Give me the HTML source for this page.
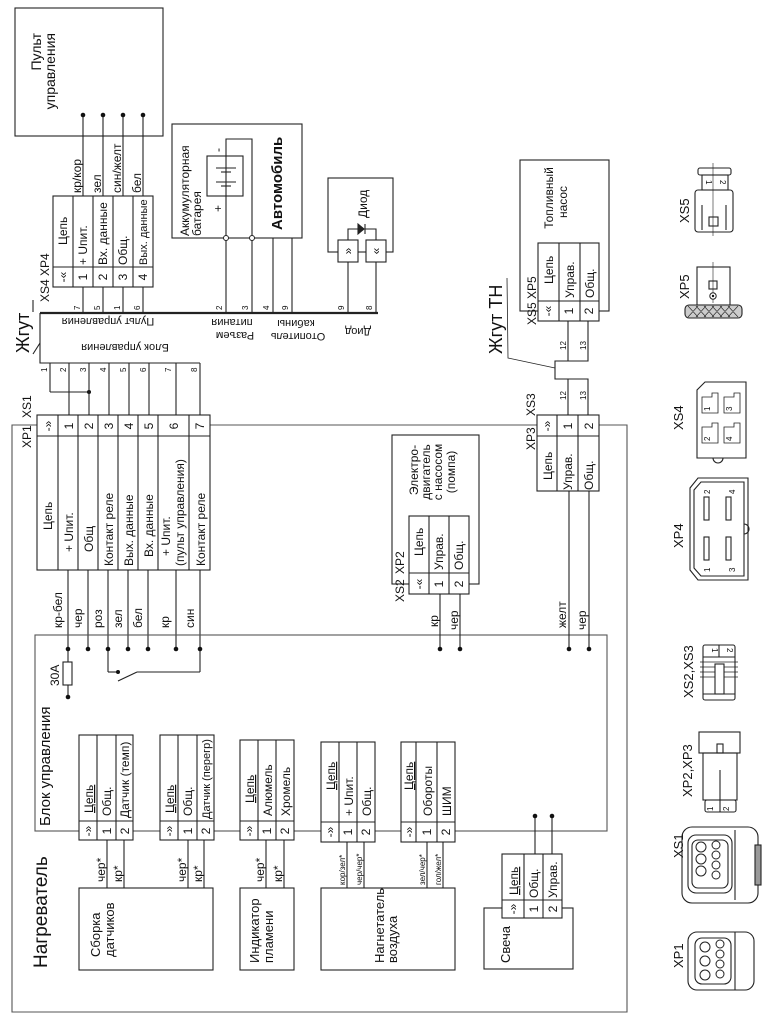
<!DOCTYPE html>
<html><head><meta charset="utf-8"><style>
html,body{margin:0;padding:0;background:#fff}
svg{display:block}
text{font-family:"Liberation Sans","DejaVu Sans",sans-serif;font-size:11px;fill:#111}
.s{font-size:8px}
.m{font-size:12px}
.L{font-size:12px}
line,path,rect,polyline{stroke:#222;stroke-width:1.1;fill:none}
circle{stroke:#222;stroke-width:1;fill:#fff}
.w{fill:#fff}
.d{fill:#111;stroke:none}
</style></head><body>
<svg width="765" height="1021" viewBox="0 0 765 1021" xmlns="http://www.w3.org/2000/svg">
<!-- Пульт -->
<rect x="15" y="8" width="148" height="128"/>
<text style="font-size:14px" text-anchor="end" transform="translate(41,33) rotate(-90)">Пульт</text>
<text style="font-size:14px" text-anchor="end" transform="translate(55,33) rotate(-90)">управления</text>
<line x1="83" y1="115" x2="83" y2="313"/><line x1="103" y1="115" x2="103" y2="313"/>
<line x1="123" y1="115" x2="123" y2="313"/><line x1="143" y1="115" x2="143" y2="313"/>
<circle class="d" cx="83" cy="115" r="2.3"/><circle class="d" cx="103" cy="115" r="2.3"/><circle class="d" cx="123" cy="115" r="2.3"/><circle class="d" cx="143" cy="115" r="2.3"/>
<text class="m" transform="translate(81,193) rotate(-90)">кр/кор</text>
<text class="m" transform="translate(101,193) rotate(-90)">зел</text>
<text class="m" transform="translate(121,193) rotate(-90)">син/желт</text>
<text class="m" transform="translate(141,193) rotate(-90)">бел</text>
<!-- XP4 table -->
<rect class="w" x="53" y="196" width="100" height="91"/>
<line x1="53" y1="267" x2="153" y2="267"/>
<line x1="73" y1="196" x2="73" y2="287"/><line x1="93" y1="196" x2="93" y2="287"/><line x1="113" y1="196" x2="113" y2="287"/><line x1="133" y1="196" x2="133" y2="287"/>
<text class="m" transform="translate(67,245) rotate(-90)">Цепь</text>
<text class="m" transform="translate(87,265) rotate(-90)">+ Uпит.</text>
<text class="m" transform="translate(107,265) rotate(-90)">Вх. данные</text>
<text class="m" transform="translate(127,265) rotate(-90)">Общ.</text>
<text transform="translate(147,265) rotate(-90)">Вых. данные</text>
<text class="m" text-anchor="middle" transform="translate(67,277) rotate(-90)">-«</text>
<text class="m" text-anchor="middle" transform="translate(87,277) rotate(-90)">1</text>
<text class="m" text-anchor="middle" transform="translate(107,277) rotate(-90)">2</text>
<text class="m" text-anchor="middle" transform="translate(127,277) rotate(-90)">3</text>
<text class="m" text-anchor="middle" transform="translate(147,277) rotate(-90)">4</text>
<text class="L" transform="translate(49,302) rotate(-90)">XS4</text>
<text class="L" transform="translate(49,276) rotate(-90)">XP4</text>
<text class="s" transform="translate(80,310) rotate(-90)">7</text><text class="s" transform="translate(100,310) rotate(-90)">5</text>
<text class="s" transform="translate(120,310) rotate(-90)">1</text><text class="s" transform="translate(140,310) rotate(-90)">6</text>
<!-- Battery / Автомобиль -->
<rect x="172" y="124" width="130" height="114"/>
<path d="M226 238 V139 H252 V238"/>
<rect class="w" x="207" y="156" width="36" height="40"/>
<line x1="226" y1="156" x2="226" y2="196"/>
<line x1="216" y1="168" x2="236" y2="168"/><line x1="221" y1="172" x2="231" y2="172"/>
<line x1="216" y1="182" x2="236" y2="182"/><line x1="221" y1="186" x2="231" y2="186"/>
<text class="m" transform="translate(222,152) rotate(-90)">-</text>
<text class="m" transform="translate(222,212) rotate(-90)">+</text>
<text class="m" transform="translate(189,236) rotate(-90)">Аккумуляторная</text>
<text class="m" transform="translate(201,236) rotate(-90)">батарея</text>
<text style="font-size:15px;font-weight:bold" transform="translate(282,230) rotate(-90)">Автомобиль</text>
<line x1="226" y1="238" x2="226" y2="313"/><line x1="252" y1="238" x2="252" y2="313"/>
<line x1="273" y1="238" x2="273" y2="313"/><line x1="292" y1="238" x2="292" y2="313"/>
<circle cx="226" cy="238" r="2.5"/><circle cx="252" cy="238" r="2.5"/>
<text class="s" transform="translate(222,310) rotate(-90)">2</text><text class="s" transform="translate(248,310) rotate(-90)">3</text>
<text class="s" transform="translate(269,310) rotate(-90)">4</text><text class="s" transform="translate(288,310) rotate(-90)">9</text>
<!-- Diode -->
<rect x="328" y="178" width="65" height="74"/>
<path d="M348 240 V229 H376 V240"/>
<path d="M358 224 L358 234 L364 229 Z" style="fill:#222"/><line x1="365" y1="224" x2="365" y2="234"/>
<text class="m" transform="translate(367,218) rotate(-90)">Диод</text>
<rect class="w" x="338" y="240" width="20" height="22"/><rect class="w" x="366" y="240" width="20" height="22"/>
<text class="m" text-anchor="middle" transform="translate(352,251) rotate(-90)">»</text>
<text class="m" text-anchor="middle" transform="translate(380,251) rotate(-90)">«</text>
<line x1="348" y1="262" x2="348" y2="313"/><line x1="376" y1="262" x2="376" y2="313"/>
<text class="s" transform="translate(344,310) rotate(-90)">9</text><text class="s" transform="translate(372,310) rotate(-90)">8</text>
<!-- Harness -->
<line x1="40" y1="313" x2="378" y2="313" style="stroke-width:2.2"/>
<path d="M40 313 V363 H200"/>
<line x1="33" y1="300" x2="33" y2="312"/><line x1="33" y1="354" x2="40" y2="343"/>
<text style="font-size:18px" transform="translate(29,353) rotate(-90)">Жгут</text>
<text text-anchor="middle" transform="translate(108,318) rotate(180)">Пульт управления</text>
<text text-anchor="middle" transform="translate(125,344) rotate(180)">Блок управления</text>
<text text-anchor="middle" transform="translate(232,319) rotate(180)">питания</text>
<text text-anchor="middle" transform="translate(235,332) rotate(180)">Разъем</text>
<text text-anchor="middle" transform="translate(296,320) rotate(180)">кабины</text>
<text text-anchor="middle" transform="translate(298,333) rotate(180)">Отопитель</text>
<text text-anchor="middle" transform="translate(358,328) rotate(180)">Диод</text>
<line x1="50" y1="363" x2="50" y2="392"/><path d="M50 392 H89"/><circle class="d" cx="89" cy="392" r="2"/>
<line x1="69" y1="363" x2="69" y2="415"/><line x1="89" y1="363" x2="89" y2="415"/>
<line x1="109" y1="363" x2="109" y2="415"/><line x1="129" y1="363" x2="129" y2="415"/>
<line x1="149" y1="363" x2="149" y2="415"/><line x1="176" y1="363" x2="176" y2="415"/>
<line x1="200" y1="363" x2="200" y2="415"/>
<text class="s" transform="translate(47,372) rotate(-90)">1</text><text class="s" transform="translate(66,372) rotate(-90)">2</text>
<text class="s" transform="translate(86,372) rotate(-90)">3</text><text class="s" transform="translate(106,372) rotate(-90)">4</text>
<text class="s" transform="translate(126,372) rotate(-90)">5</text><text class="s" transform="translate(146,372) rotate(-90)">6</text>
<text class="s" transform="translate(171,372) rotate(-90)">7</text><text class="s" transform="translate(197,372) rotate(-90)">8</text>
<!-- outer frame -->
<path d="M37 425 H12 V1012 H627 V425 H599" style="stroke:#555"/>
<line x1="210" y1="425" x2="537" y2="425" style="stroke:#555"/>
<text class="L" transform="translate(31,418) rotate(-90)">XS1</text>
<text class="L" transform="translate(31,448) rotate(-90)">XP1</text>
<!-- XP1 table -->
<rect class="w" x="37" y="415" width="173" height="155"/>
<line x1="37" y1="436" x2="210" y2="436"/>
<line x1="58" y1="415" x2="58" y2="570"/><line x1="78" y1="415" x2="78" y2="570"/><line x1="98" y1="415" x2="98" y2="570"/>
<line x1="118" y1="415" x2="118" y2="570"/><line x1="138" y1="415" x2="138" y2="570"/><line x1="158" y1="415" x2="158" y2="570"/><line x1="189" y1="415" x2="189" y2="570"/>
<text class="m" text-anchor="middle" transform="translate(52,426) rotate(-90)">-»</text>
<text class="m" text-anchor="middle" transform="translate(73,426) rotate(-90)">1</text>
<text class="m" text-anchor="middle" transform="translate(93,426) rotate(-90)">2</text>
<text class="m" text-anchor="middle" transform="translate(113,426) rotate(-90)">3</text>
<text class="m" text-anchor="middle" transform="translate(133,426) rotate(-90)">4</text>
<text class="m" text-anchor="middle" transform="translate(153,426) rotate(-90)">5</text>
<text class="m" text-anchor="middle" transform="translate(178,426) rotate(-90)">6</text>
<text class="m" text-anchor="middle" transform="translate(204,426) rotate(-90)">7</text>
<text class="m" transform="translate(52,530) rotate(-90)">Цепь</text>
<text class="m" transform="translate(73,552) rotate(-90)">+ Uпит.</text>
<text class="m" transform="translate(93,552) rotate(-90)">Общ</text>
<text class="m" transform="translate(113,566) rotate(-90)">Контакт реле</text>
<text class="m" transform="translate(133,566) rotate(-90)">Вых. данные</text>
<text class="m" transform="translate(153,557) rotate(-90)">Вх. данные</text>
<text class="m" transform="translate(170,556) rotate(-90)">+ Uпит.</text>
<text class="m" transform="translate(184,566) rotate(-90)">(пульт управления)</text>
<text class="m" transform="translate(205,566) rotate(-90)">Контакт реле</text>
<!-- wires to block -->
<line x1="68" y1="570" x2="68" y2="662"/><line x1="88" y1="570" x2="88" y2="649"/><line x1="108" y1="570" x2="108" y2="672"/>
<line x1="128" y1="570" x2="128" y2="649"/><line x1="148" y1="570" x2="148" y2="649"/><line x1="176" y1="570" x2="176" y2="649"/><line x1="200" y1="570" x2="200" y2="672"/>
<text class="m" transform="translate(62,628) rotate(-90)">кр-бел</text>
<text class="m" transform="translate(82,628) rotate(-90)">чер</text>
<text class="m" transform="translate(102,628) rotate(-90)">роз</text>
<text class="m" transform="translate(122,628) rotate(-90)">зел</text>
<text class="m" transform="translate(142,628) rotate(-90)">бел</text>
<text class="m" transform="translate(169,628) rotate(-90)">кр</text>
<text class="m" transform="translate(194,628) rotate(-90)">син</text>
<!-- block -->
<rect x="35" y="635" width="572" height="196" style="stroke:#555"/>
<rect class="w" x="63" y="662" width="9" height="23"/><line x1="68" y1="685" x2="68" y2="697"/>
<circle class="d" cx="68" cy="697" r="2.3"/>
<text class="m" transform="translate(59,686) rotate(-90)">30A</text>
<path d="M108 672 H118"/><circle class="d" cx="118" cy="672" r="2"/><line x1="118" y1="681" x2="137" y2="672"/><path d="M137 672 H200"/>
<text style="font-size:15px" transform="translate(50,826) rotate(-90)">Блок управления</text>
<text style="font-size:19px" transform="translate(47,968) rotate(-90)">Нагреватель</text>
<!-- XP2 -->
<rect x="392" y="435" width="87" height="149"/>
<rect class="w" x="409" y="516" width="60" height="78"/>
<line x1="409" y1="573" x2="469" y2="573"/><line x1="429" y1="516" x2="429" y2="594"/><line x1="449" y1="516" x2="449" y2="594"/>
<text class="m" transform="translate(423,556) rotate(-90)">Цепь</text>
<text class="m" transform="translate(443,570) rotate(-90)">Управ.</text>
<text class="m" transform="translate(463,570) rotate(-90)">Общ.</text>
<text class="m" text-anchor="middle" transform="translate(423,584) rotate(-90)">-«</text>
<text class="m" text-anchor="middle" transform="translate(443,584) rotate(-90)">1</text>
<text class="m" text-anchor="middle" transform="translate(463,584) rotate(-90)">2</text>
<text class="L" transform="translate(404,602) rotate(-90)">XS2</text>
<text class="L" transform="translate(404,574) rotate(-90)">XP2</text>
<text class="m" text-anchor="middle" transform="translate(418,470) rotate(-90)">Электро-</text>
<text class="m" text-anchor="middle" transform="translate(430,472) rotate(-90)">двигатель</text>
<text class="m" text-anchor="middle" transform="translate(442,472) rotate(-90)">с насосом</text>
<text class="m" text-anchor="middle" transform="translate(455,472) rotate(-90)">(помпа)</text>
<line x1="440" y1="594" x2="440" y2="649"/><line x1="460" y1="594" x2="460" y2="649"/>
<text class="m" transform="translate(438,627) rotate(-90)">кр</text>
<text class="m" transform="translate(458,630) rotate(-90)">чер</text>
<!-- XP3 -->
<rect class="w" x="537" y="415" width="62" height="76"/>
<line x1="537" y1="436" x2="599" y2="436"/><line x1="557" y1="415" x2="557" y2="491"/><line x1="578" y1="415" x2="578" y2="491"/>
<text class="m" text-anchor="middle" transform="translate(551,426) rotate(-90)">-»</text>
<text class="m" text-anchor="middle" transform="translate(572,426) rotate(-90)">1</text>
<text class="m" text-anchor="middle" transform="translate(593,426) rotate(-90)">2</text>
<text class="m" transform="translate(552,480) rotate(-90)">Цепь</text>
<text class="m" transform="translate(572,490) rotate(-90)">Управ.</text>
<text class="m" transform="translate(593,490) rotate(-90)">Общ.</text>
<text class="L" transform="translate(535,416) rotate(-90)">XS3</text>
<text class="L" transform="translate(535,450) rotate(-90)">XP3</text>
<line x1="569" y1="491" x2="569" y2="649"/><line x1="589" y1="491" x2="589" y2="649"/>
<text class="m" transform="translate(566,628) rotate(-90)">желт</text>
<text class="m" transform="translate(586,630) rotate(-90)">чер</text>
<!-- dots -->
<g>
<circle class="d" cx="68" cy="649" r="2.3"/><circle class="d" cx="88" cy="649" r="2.3"/><circle class="d" cx="108" cy="649" r="2.3"/>
<circle class="d" cx="128" cy="649" r="2.3"/><circle class="d" cx="148" cy="649" r="2.3"/><circle class="d" cx="176" cy="649" r="2.3"/><circle class="d" cx="200" cy="649" r="2.3"/>
<circle class="d" cx="440" cy="649" r="2.3"/><circle class="d" cx="460" cy="649" r="2.3"/><circle class="d" cx="569" cy="649" r="2.3"/><circle class="d" cx="589" cy="649" r="2.3"/>
</g>
<!-- Fuel pump & ТН harness -->
<rect x="520" y="160" width="89" height="151"/>
<text class="m" text-anchor="middle" transform="translate(553,198) rotate(-90)">Топливный</text>
<text class="m" text-anchor="middle" transform="translate(567,202) rotate(-90)">насос</text>
<rect class="w" x="538" y="243" width="61" height="78"/>
<line x1="538" y1="301" x2="599" y2="301"/><line x1="559" y1="243" x2="559" y2="321"/><line x1="580" y1="243" x2="580" y2="321"/>
<text class="m" transform="translate(553,284) rotate(-90)">Цепь</text>
<text class="m" transform="translate(574,298) rotate(-90)">Управ.</text>
<text class="m" transform="translate(594,298) rotate(-90)">Общ.</text>
<text class="m" text-anchor="middle" transform="translate(552,311) rotate(-90)">-«</text>
<text class="m" text-anchor="middle" transform="translate(573,311) rotate(-90)">1</text>
<text class="m" text-anchor="middle" transform="translate(593,311) rotate(-90)">2</text>
<text class="L" transform="translate(536,325) rotate(-90)">XS5</text>
<text class="L" transform="translate(536,299) rotate(-90)">XP5</text>
<path d="M568 321 V361 H555 V379 H568 V415"/>
<path d="M588 321 V361 H568"/><path d="M568 379 H588 V415"/>
<text class="s" transform="translate(566,350) rotate(-90)">12</text><text class="s" transform="translate(586,350) rotate(-90)">13</text>
<text class="s" transform="translate(566,400) rotate(-90)">12</text><text class="s" transform="translate(586,400) rotate(-90)">13</text>
<polyline points="507,278 508,358 555,368" style="stroke-width:0.8"/>
<text style="font-size:18px" transform="translate(502,354) rotate(-90)">Жгут ТН</text>
<!-- lower tables -->
<g>
<rect class="w" x="79" y="735" width="54" height="105"/>
<line x1="79" y1="821" x2="133" y2="821"/><line x1="97" y1="735" x2="97" y2="840"/><line x1="116" y1="735" x2="116" y2="840"/>
<text class="m" transform="translate(93,813) rotate(-90)" text-decoration="underline">Цепь</text>
<text class="m" transform="translate(111,816) rotate(-90)">Общ.</text>
<text class="m" transform="translate(129,818) rotate(-90)">Датчик (темп)</text>
<text class="m" text-anchor="middle" transform="translate(92,831) rotate(-90)">-»</text>
<text class="m" text-anchor="middle" transform="translate(111,831) rotate(-90)">1</text>
<text class="m" text-anchor="middle" transform="translate(129,831) rotate(-90)">2</text>

<rect class="w" x="160" y="735" width="54" height="105"/>
<line x1="160" y1="821" x2="214" y2="821"/><line x1="178" y1="735" x2="178" y2="840"/><line x1="197" y1="735" x2="197" y2="840"/>
<text class="m" transform="translate(174,813) rotate(-90)" text-decoration="underline">Цепь</text>
<text class="m" transform="translate(192,816) rotate(-90)">Общ.</text>
<text transform="translate(210,819) rotate(-90)">Датчик (перегр)</text>
<text class="m" text-anchor="middle" transform="translate(173,831) rotate(-90)">-»</text>
<text class="m" text-anchor="middle" transform="translate(192,831) rotate(-90)">1</text>
<text class="m" text-anchor="middle" transform="translate(210,831) rotate(-90)">2</text>

<rect class="w" x="240" y="740" width="54" height="100"/>
<line x1="240" y1="821" x2="294" y2="821"/><line x1="258" y1="740" x2="258" y2="840"/><line x1="276" y1="740" x2="276" y2="840"/>
<text class="m" transform="translate(254,803) rotate(-90)" text-decoration="underline">Цепь</text>
<text class="m" transform="translate(272,816) rotate(-90)">Алюмель</text>
<text class="m" transform="translate(290,816) rotate(-90)">Хромель</text>
<text class="m" text-anchor="middle" transform="translate(253,831) rotate(-90)">-»</text>
<text class="m" text-anchor="middle" transform="translate(271,831) rotate(-90)">1</text>
<text class="m" text-anchor="middle" transform="translate(289,831) rotate(-90)">2</text>

<rect class="w" x="321" y="742" width="54" height="100"/>
<line x1="321" y1="822" x2="375" y2="822"/><line x1="339" y1="742" x2="339" y2="842"/><line x1="357" y1="742" x2="357" y2="842"/>
<text class="m" transform="translate(335,790) rotate(-90)" text-decoration="underline">Цепь</text>
<text class="m" transform="translate(353,816) rotate(-90)">+ Uпит.</text>
<text class="m" transform="translate(371,816) rotate(-90)">Общ.</text>
<text class="m" text-anchor="middle" transform="translate(334,832) rotate(-90)">-»</text>
<text class="m" text-anchor="middle" transform="translate(352,832) rotate(-90)">1</text>
<text class="m" text-anchor="middle" transform="translate(370,832) rotate(-90)">2</text>

<rect class="w" x="401" y="742" width="54" height="100"/>
<line x1="401" y1="822" x2="455" y2="822"/><line x1="416" y1="742" x2="416" y2="842"/><line x1="437" y1="742" x2="437" y2="842"/>
<text class="m" transform="translate(413,790) rotate(-90)" text-decoration="underline">Цепь</text>
<text class="m" transform="translate(432,816) rotate(-90)">Обороты</text>
<text class="m" transform="translate(451,816) rotate(-90)">ШИМ</text>
<text class="m" text-anchor="middle" transform="translate(413,832) rotate(-90)">-»</text>
<text class="m" text-anchor="middle" transform="translate(431,832) rotate(-90)">1</text>
<text class="m" text-anchor="middle" transform="translate(450,832) rotate(-90)">2</text>
</g>
<!-- wires to components -->
<line x1="107" y1="840" x2="107" y2="888"/><line x1="124" y1="840" x2="124" y2="888"/>
<line x1="188" y1="840" x2="188" y2="888"/><line x1="204" y1="840" x2="204" y2="888"/>
<line x1="266" y1="840" x2="266" y2="888"/><line x1="284" y1="840" x2="284" y2="888"/>
<line x1="347" y1="842" x2="347" y2="888"/><line x1="364" y1="842" x2="364" y2="888"/>
<line x1="427" y1="842" x2="427" y2="888"/><line x1="443" y1="842" x2="443" y2="888"/>
<text class="m" transform="translate(105,882) rotate(-90)">чер*</text><text class="m" transform="translate(122,882) rotate(-90)">кр*</text>
<text class="m" transform="translate(186,882) rotate(-90)">чер*</text><text class="m" transform="translate(202,882) rotate(-90)">кр*</text>
<text class="m" transform="translate(264,882) rotate(-90)">чер*</text><text class="m" transform="translate(282,882) rotate(-90)">кр*</text>
<text class="s" transform="translate(345,885) rotate(-90)">кор/зел*</text><text class="s" transform="translate(362,885) rotate(-90)">чер/чер*</text>
<text class="s" transform="translate(425,885) rotate(-90)">зел/чер*</text><text class="s" transform="translate(441,885) rotate(-90)">гол/жел*</text>
<rect x="79" y="888" width="134" height="82"/>
<text style="font-size:13px" transform="translate(100,957) rotate(-90)">Сборка</text>
<text style="font-size:13px" transform="translate(114,957) rotate(-90)">датчиков</text>
<rect x="240" y="888" width="54" height="82"/>
<text style="font-size:13px" transform="translate(259,963) rotate(-90)">Индикатор</text>
<text style="font-size:13px" transform="translate(273,963) rotate(-90)">пламени</text>
<rect x="321" y="888" width="134" height="82"/>
<text style="font-size:13px" transform="translate(384,963) rotate(-90)">Нагнетатель</text>
<text style="font-size:13px" transform="translate(397,963) rotate(-90)">воздуха</text>
<!-- Свеча -->
<rect x="484" y="908" width="89" height="61"/>
<text style="font-size:13px" transform="translate(510,963) rotate(-90)">Свеча</text>
<line x1="535" y1="816" x2="535" y2="854"/><line x1="552" y1="816" x2="552" y2="854"/>
<circle class="d" cx="535" cy="816" r="2.3"/><circle class="d" cx="552" cy="816" r="2.3"/>
<rect class="w" x="502" y="854" width="60" height="64"/>
<line x1="502" y1="900" x2="562" y2="900"/><line x1="524" y1="854" x2="524" y2="918"/><line x1="543" y1="854" x2="543" y2="918"/>
<text class="m" transform="translate(518,895) rotate(-90)" text-decoration="underline">Цепь</text>
<text class="m" transform="translate(538,898) rotate(-90)">Общ.</text>
<text class="m" transform="translate(557,898) rotate(-90)">Управ.</text>
<text class="m" text-anchor="middle" transform="translate(517,909) rotate(-90)">-»</text>
<text class="m" text-anchor="middle" transform="translate(538,909) rotate(-90)">1</text>
<text class="m" text-anchor="middle" transform="translate(557,909) rotate(-90)">2</text>
<!-- connector drawings -->
<g style="stroke-width:1">
<text class="m" style="font-size:13px" transform="translate(689,223) rotate(-90)">XS5</text>
<rect x="698" y="168" width="33" height="7" rx="2"/>
<rect x="702" y="175" width="26" height="15"/>
<rect x="695" y="190" width="38" height="42" rx="3"/>
<line x1="713" y1="163" x2="713" y2="236" style="stroke-width:0.6"/>
<rect x="709" y="217" width="9" height="9"/>
<line x1="702" y1="205" x2="702" y2="230"/><line x1="726" y1="205" x2="726" y2="230"/>
<text class="s" transform="translate(706,180) rotate(90)">1</text><text class="s" transform="translate(720,180) rotate(90)">2</text>

<text class="m" style="font-size:13px" transform="translate(689,299) rotate(-90)">XP5</text>
<rect x="697" y="267" width="33" height="38"/>
<rect x="685" y="305" width="57" height="13" rx="4" style="fill:#ccc"/>
<path d="M688 306 L698 317 M696 306 L706 317 M704 306 L714 317 M712 306 L722 317 M720 306 L730 317 M728 306 L738 317 M698 306 L688 317 M706 306 L696 317 M714 306 L704 317 M722 306 L712 317 M730 306 L720 317 M738 306 L728 317" style="stroke-width:0.6"/>
<line x1="713" y1="262" x2="713" y2="303" style="stroke-width:0.6"/>
<rect x="709" y="281" width="8" height="8"/><circle cx="713" cy="296" r="3.2"/><circle class="d" cx="713" cy="296" r="1.2"/>

<text class="m" style="font-size:13px" transform="translate(683,430) rotate(-90)">XS4</text>
<path d="M705 382 H746 V458 H697 V390 Z"/>
<path d="M713 458 a5 5 0 0 0 10 0"/>
<path d="M702 397 H712 V393 H718 V413 H702 Z M724 397 H734 V393 H740 V413 H724 Z M702 427 H712 V423 H718 V443 H702 Z M724 427 H734 V423 H740 V443 H724 Z" style="stroke-width:0.8"/>
<text class="s" transform="translate(710,411) rotate(-90)">1</text><text class="s" transform="translate(732,411) rotate(-90)">3</text>
<text class="s" transform="translate(710,441) rotate(-90)">2</text><text class="s" transform="translate(732,441) rotate(-90)">4</text>

<text class="m" style="font-size:13px" transform="translate(683,548) rotate(-90)">XP4</text>
<path d="M698 478 H748 V580 H698 L690 570 V488 Z"/>
<path d="M701 482 H744 V576 H701 L694 568 V490 Z"/>
<path d="M744 524 a5 5 0 0 1 0 10"/>
<rect x="704" y="497" width="5" height="23"/><rect x="726" y="497" width="5" height="23"/>
<rect x="704" y="537" width="5" height="23"/><rect x="726" y="537" width="5" height="23"/>
<text class="s" transform="translate(710,494) rotate(-90)">2</text><text class="s" transform="translate(735,494) rotate(-90)">4</text>
<text class="s" transform="translate(710,572) rotate(-90)">1</text><text class="s" transform="translate(735,572) rotate(-90)">3</text>

<text class="m" style="font-size:13px" transform="translate(693,698) rotate(-90)">XS2,XS3</text>
<rect x="703" y="645" width="32" height="55" rx="2"/>
<line x1="703" y1="657" x2="735" y2="657"/><line x1="719" y1="645" x2="719" y2="657"/>
<path d="M700 662 H738 M700 667 H738 M700 672 H738 M700 677 H738" style="stroke-width:0.8"/>
<rect class="w" x="715" y="664" width="9" height="30"/>
<line x1="703" y1="694" x2="735" y2="694"/>
<text class="s" transform="translate(712,648) rotate(90)">1</text><text class="s" transform="translate(727,648) rotate(90)">2</text>

<text class="m" style="font-size:13px" transform="translate(692,797) rotate(-90)">XP2,XP3</text>
<rect x="699" y="732" width="41" height="21"/>
<rect x="717" y="744" width="6" height="9"/>
<rect x="703" y="753" width="34" height="47"/>
<line x1="720" y1="770" x2="720" y2="812"/>
<rect x="705" y="800" width="31" height="12" rx="2"/>
<text class="s" transform="translate(713,811) rotate(-90)">1</text><text class="s" transform="translate(729,811) rotate(-90)">2</text>

<text class="m" style="font-size:13px" transform="translate(683,858) rotate(-90)">XS1</text>
<rect x="682" y="827" width="76" height="76" rx="10"/>
<rect x="688" y="835" width="44" height="58" rx="8"/>
<rect x="692" y="840" width="36" height="48" rx="6"/>
<circle cx="701" cy="847" r="5"/><circle cx="701" cy="859" r="5"/><circle cx="701" cy="871" r="5"/>
<circle cx="716" cy="845" r="4"/><circle cx="716" cy="855" r="4"/><circle cx="716" cy="865" r="4"/><circle cx="716" cy="875" r="4"/>
<line x1="735" y1="830" x2="735" y2="900"/>
<rect x="755" y="845" width="6" height="40" style="fill:#999"/>

<text class="m" style="font-size:13px" transform="translate(683,968) rotate(-90)">XP1</text>
<rect x="688" y="932" width="66" height="58" rx="9"/>
<line x1="735" y1="932" x2="735" y2="990"/>
<rect x="695" y="938" width="36" height="46" rx="7"/>
<circle cx="705" cy="947" r="5"/><circle cx="705" cy="961" r="5"/><circle cx="705" cy="975" r="5"/>
<circle cx="720" cy="944" r="4"/><circle cx="720" cy="954" r="4"/><circle cx="720" cy="964" r="4"/><circle cx="720" cy="974" r="4"/>
</g>
</svg>
</body></html>
